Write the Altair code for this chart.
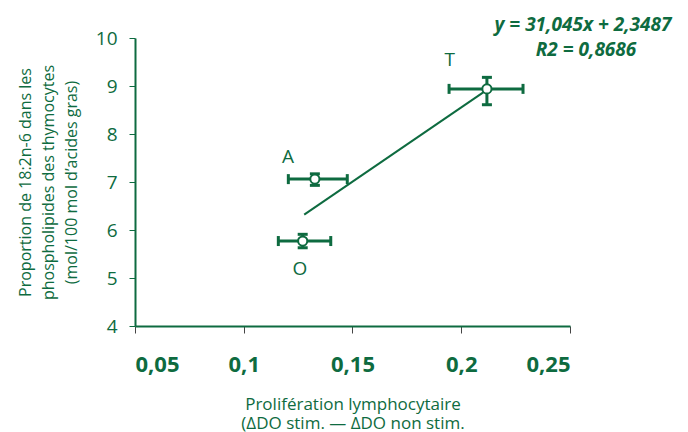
import altair as alt
import pandas as pd

GREEN = "#0e6b40"
FONT = "Open Sans"

# ---- data ----
labels = ["O", "A", "T"]
x_mean = [0.1271, 0.1327, 0.2118]
y_mean = [5.77, 7.06, 8.94]
x_low = [0.1159, 0.1205, 0.1944]
x_high = [0.1400, 0.1476, 0.2284]
y_low = [5.63, 6.93, 8.61]
y_high = [5.91, 7.17, 9.18]
label_x = [0.1258, 0.1203, 0.1947]
label_y = [5.19, 7.52, 9.55]
trend_x = [0.1278, 0.2118]
trend_y = [6.32, 8.92]
x_ticks = [0.05, 0.1, 0.15, 0.2, 0.25]
y_ticks = [4, 5, 6, 7, 8, 9, 10]
equation_lines = ["y = 31,045x + 2,3487", "R2 = 0,8686"]
x_title = ["Prolifération lymphocytaire", "(ΔDO stim. — ΔDO non stim."]
y_title = ["Proportion de 18:2n-6 dans les",
           "phospholipides des thymocytes",
           "(mol/100 mol d’acides gras)"]

pts = pd.DataFrame({"label": labels, "x": x_mean, "y": y_mean,
                    "xl": x_low, "xh": x_high, "yl": y_low, "yh": y_high,
                    "lx": label_x, "ly": label_y})
trend = pd.DataFrame({"x": trend_x, "y": trend_y})
eq = pd.DataFrame({"t": equation_lines, "i": [0, 1]})

xs = alt.Scale(domain=[0.05, 0.25], nice=False, zero=False)
ys = alt.Scale(domain=[4, 10], nice=False, zero=False)

xaxis = alt.Axis(values=x_ticks,
                 labelExpr="replace(format(datum.value, '.2~f'), '.', ',')",
                 title=x_title, grid=False,
                 labelFont=FONT, labelFontSize=22, labelFontWeight="bold",
                 labelColor=GREEN, labelPadding=21,
                 tickColor="#444444", tickSize=7, tickWidth=1,
                 domainColor=GREEN, domainWidth=2,
                 titleFont=FONT, titleFontSize=17, titleFontWeight="normal",
                 titleColor=GREEN, titlePadding=21, titleLineHeight=19)
yaxis = alt.Axis(values=y_ticks, title=y_title, grid=False,
                 labelFont=FONT, labelFontSize=19, labelFontWeight=500,
                 labelColor=GREEN, labelPadding=12,
                 tickColor=GREEN, tickSize=6, tickWidth=1,
                 domainColor=GREEN, domainWidth=2,
                 titleFont=FONT, titleFontSize=16, titleFontWeight="normal",
                 titleColor=GREEN, titlePadding=16, titleLineHeight=23)


def X(f):
    return alt.X(f, type="quantitative", scale=xs, axis=xaxis)


def Y(f):
    return alt.Y(f, type="quantitative", scale=ys, axis=yaxis)


trend_line = alt.Chart(trend).mark_line(color=GREEN, strokeWidth=2).encode(
    x=X("x"), y=Y("y"))

hbar = alt.Chart(pts).mark_rule(color=GREEN, strokeWidth=3).encode(
    x=X("xl"), x2="xh", y=Y("y"))
hcap_l = alt.Chart(pts).mark_tick(color=GREEN, orient="vertical", size=10,
                                  thickness=3, opacity=1).encode(x=X("xl"), y=Y("y"))
hcap_r = alt.Chart(pts).mark_tick(color=GREEN, orient="vertical", size=10,
                                  thickness=3, opacity=1).encode(x=X("xh"), y=Y("y"))
vbar = alt.Chart(pts).mark_rule(color=GREEN, strokeWidth=3).encode(
    x=X("x"), y=Y("yl"), y2="yh")
vcap_l = alt.Chart(pts).mark_tick(color=GREEN, orient="horizontal", size=10,
                                  thickness=3, opacity=1).encode(x=X("x"), y=Y("yl"))
vcap_h = alt.Chart(pts).mark_tick(color=GREEN, orient="horizontal", size=10,
                                  thickness=3, opacity=1).encode(x=X("x"), y=Y("yh"))

points = alt.Chart(pts).mark_point(filled=False, fill="white", fillOpacity=1,
                                   stroke=GREEN, strokeWidth=2, size=85,
                                   opacity=1, shape="circle").encode(
    x=X("x"), y=Y("y"))

texts = alt.Chart(pts).mark_text(color=GREEN, font=FONT, fontSize=19,
                                 align="center", baseline="middle").encode(
    x=X("lx"), y=Y("ly"), text="label")

eq1 = alt.Chart(eq).transform_filter("datum.i == 0").mark_text(
    color=GREEN, font=FONT, fontSize=19, fontWeight="bold", fontStyle="italic",
    align="center", baseline="alphabetic").encode(
    x=alt.value(448), y=alt.value(-7), text="t:N")
eq2 = alt.Chart(eq).transform_filter("datum.i == 1").mark_text(
    color=GREEN, font=FONT, fontSize=19, fontWeight="bold", fontStyle="italic",
    align="center", baseline="alphabetic").encode(
    x=alt.value(451), y=alt.value(17.5), text="t:N")

chart = alt.layer(trend_line, hbar, hcap_l, hcap_r, vbar, vcap_l, vcap_h,
                  points, texts, eq1, eq2).properties(
    width=435, height=288,
    autosize=alt.AutoSizeParams(type="none"),
    padding={"left": 135, "top": 38, "right": 118, "bottom": 106},
    background="white",
).configure_view(stroke=None)

chart.save("out.html", embed_options={"renderer": "svg", "actions": False})
